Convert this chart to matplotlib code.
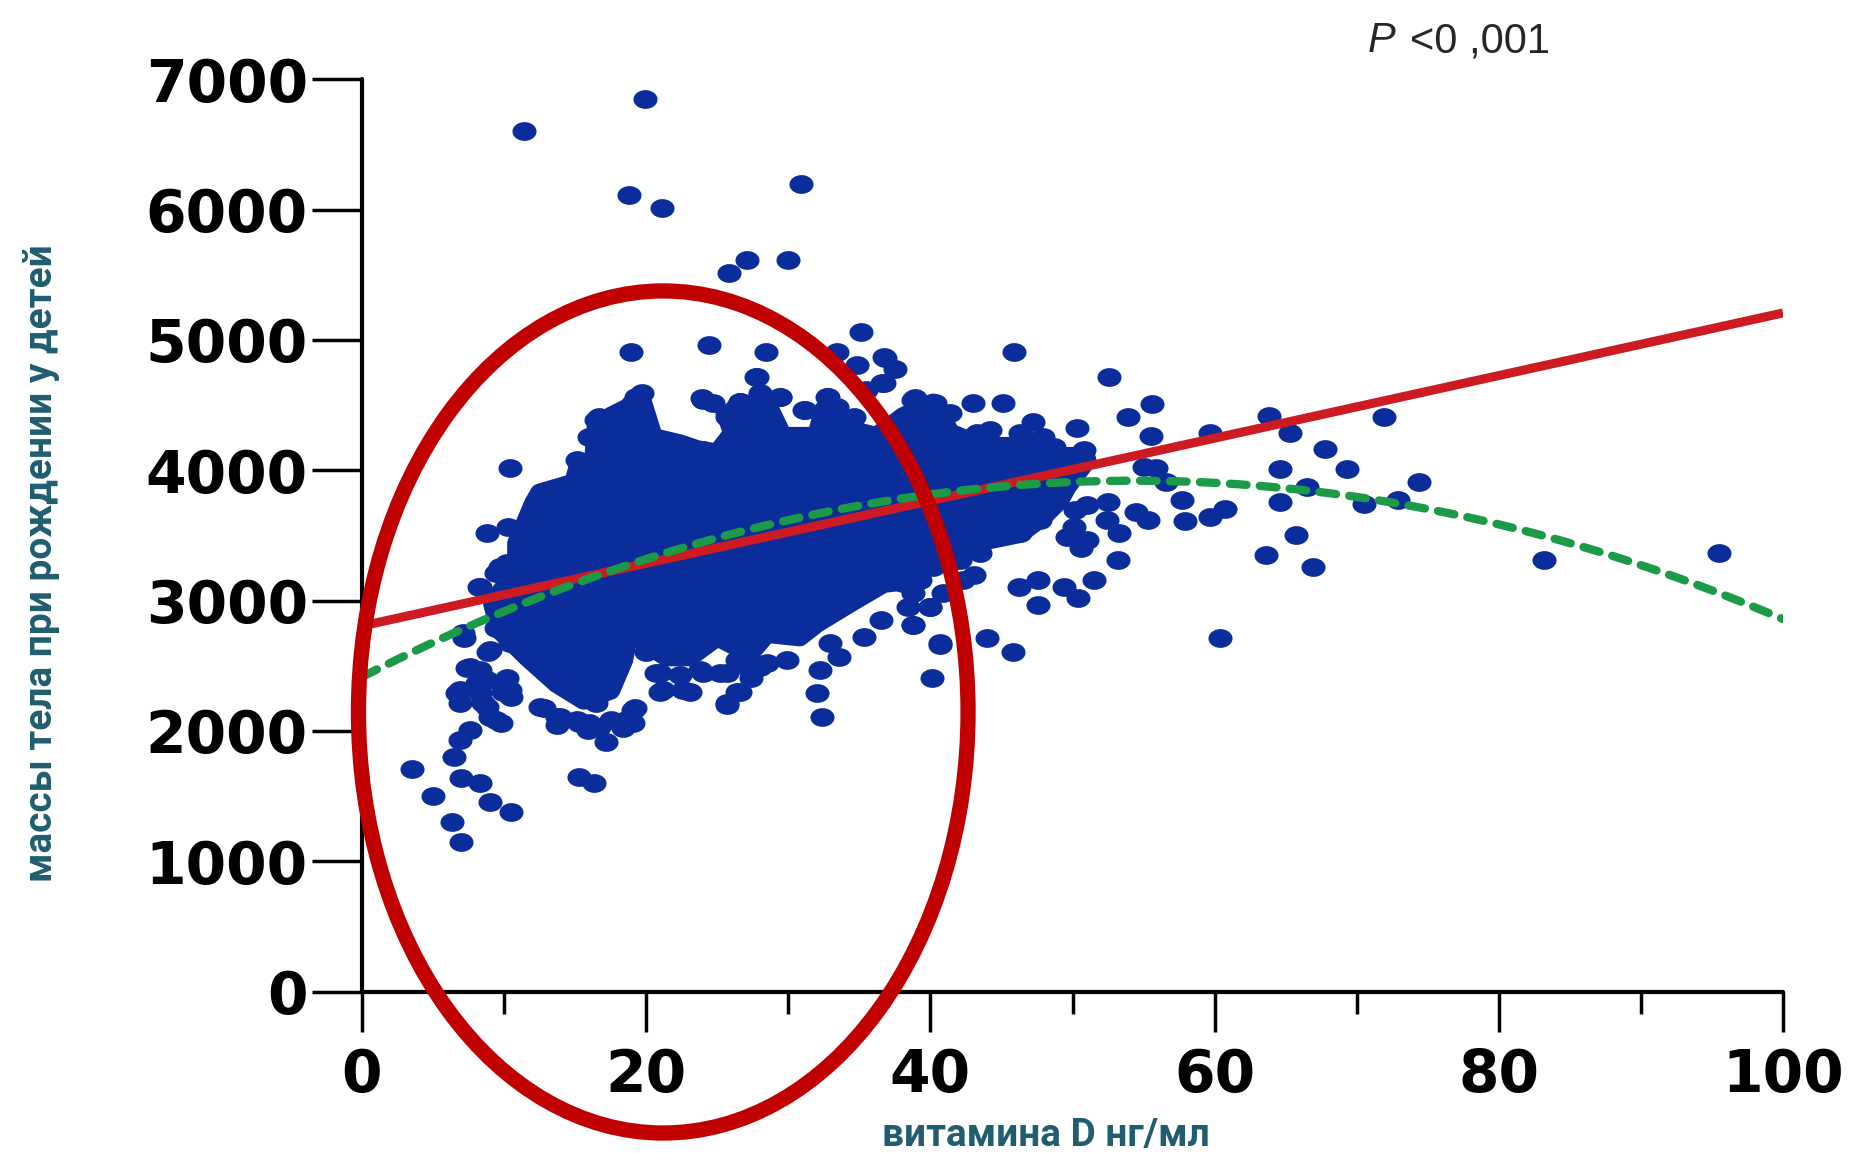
import numpy as np
import matplotlib
matplotlib.use("Agg")
import matplotlib.pyplot as plt
from matplotlib.patches import Ellipse, Polygon
from matplotlib.path import Path
from matplotlib.transforms import Affine2D

# vitamin D (ng/ml) and birth weight (g) of individual points around the dense cloud
vit_d = [19.9, 11.4, 18.8, 21.1, 30.9, 25.8, 27.1, 30.0,
         18.95, 24.4, 28.4, 27.7, 35.1, 33.4, 34.8, 36.7, 37.5,
         45.9, 36.8, 36.6,
         19.4, 23.9, 26.6, 28.0, 29.4, 32.8, 38.9, 40.3, 43.0, 45.1, 47.2, 50.3, 44.2, 31.2, 25.7, 16.7,
         52.6, 55.6, 53.9, 63.8, 71.9, 55.5, 65.3, 67.8, 64.6, 69.3, 59.7, 55.0, 55.9, 56.6, 57.7,
         66.5, 64.6, 70.5, 72.9, 52.5, 54.5, 55.3, 57.9, 59.7, 60.7, 65.7, 63.6, 66.9, 60.4, 53.2,
         51.5, 50.4, 49.4, 47.6, 47.6, 46.2, 44.0, 45.8, 40.7, 38.8, 43.1, 50.1, 51.0, 49.6, 50.6,
         53.3, 52.4, 50.2, 51.0, 74.4, 83.2, 95.5,
         3.5, 5.0, 6.3, 7.0, 9.0, 10.5, 7.0, 8.3, 6.5, 6.9, 7.6, 9.4, 9.8, 7.4, 8.3, 8.8, 8.3, 8.8,
         9.0, 6.7, 6.9, 10.2, 10.5, 9.9, 8.9, 7.2, 8.2, 9.4, 10.1, 9.4, 10.4, 12.8, 13.7, 13.7, 15.3,
         15.9, 16.7, 17.2, 15.3, 16.3, 18.4, 19.1, 19.2, 20.0, 21.0, 23.1, 21.0, 22.4, 24.0, 25.7,
         26.6, 25.7, 27.4, 28.0,
         10.4, 8.8, 10.3, 8.3, 9.7, 10.2, 9.0, 7.6, 6.9, 8.1, 8.5, 10.4, 7.1, 12.5, 13.9, 15.1, 16.0,
         17.5, 18.6, 19.1, 16.5,
         16.5, 17.5, 16.0, 19.3, 19.7, 19.1, 15.1, 12.5, 24.0, 24.7, 25.7, 26.6, 27.8, 28.0, 29.4,
         31.1, 32.7, 33.4, 34.6, 35.5, 36.7, 38.8, 40.2, 41.4, 38.6, 22.6, 24.0, 21.2, 20.3,
         32.2, 32.0, 32.4, 25.7, 26.4, 26.6, 32.9, 33.6, 35.3, 36.5, 38.8, 40.0, 40.7, 40.1, 36.7,
         38.1, 39.3, 20.3, 20.7, 21.2, 22.6, 23.8, 25.2, 26.4, 27.3, 28.5, 29.9, 42.3, 41.8, 42.1,
         41.1, 42.5, 43.3, 44.9, 46.3, 46.8, 47.9, 48.7, 49.4, 50.8, 42.5, 43.9, 44.9, 46.5, 47.7,
         46.3, 44.9, 43.5, 42.1, 41.1, 40.2, 39.3, 38.8, 40.9, 40.0, 38.4, 49.4, 47.9, 48.9]
weight = [6850, 6600, 6110, 6010, 6200, 5510, 5610, 5610,
          4906, 4959, 4906, 4718, 5064, 4906, 4808, 4872, 4775,
          4910, 4860, 4668,
          4565, 4553, 4527, 4578, 4565, 4565, 4553, 4514, 4514, 4514, 4373, 4322, 4309, 4463, 4411, 4411,
          4714, 4509, 4411, 4417, 4411, 4263, 4289, 4161, 4008, 4008, 4284, 4028, 4015, 3912, 3772,
          3870, 3759, 3741, 3772, 3759, 3682, 3618, 3611, 3644, 3701, 3503, 3350, 3260, 2711, 3311,
          3158, 3018, 3107, 2966, 3158, 3107, 2711, 2608, 2672, 2813, 3196, 3567, 3465, 3490, 3401,
          3516, 3618, 3695, 3734, 3908, 3311, 3363,
          1705, 1503, 1303, 1150, 1457, 1375, 1636, 1602, 1802, 1930, 2007, 2084, 2058, 2480, 2467, 2390, 2288, 2186,
          2109, 2288, 2212, 2404, 2262, 2301, 2608, 2711, 3107, 3209, 3260, 2787, 2672, 2173, 2109, 2045, 2058,
          2007, 2032, 1917, 1648, 1602, 2020, 2058, 2173, 2608, 2301, 2301, 2442, 2429, 2442, 2442,
          2301, 2199, 2404, 2493,
          4015, 3516, 3567, 3107, 3260, 3286, 2621, 2493, 2314, 2365, 2212, 2314, 2749, 2186, 2109, 2084, 2058,
          2084, 2084, 2160, 2212,
          4386, 4411, 4258, 4565, 4591, 4514, 4079, 3797, 4540, 4514, 4437, 4527, 4718, 4591, 4565,
          4463, 4565, 4488, 4411, 4616, 4668, 4540, 4514, 4437, 4361, 4079, 4156, 4130, 4181,
          2467, 2288, 2109, 2212, 2301, 2646, 2672, 2570, 2723, 2851, 2813, 2953, 2659, 2404, 3183,
          3133, 3286, 2621, 2442, 2314, 2314, 2467, 2442, 2544, 2467, 2519, 2544, 3158, 3414, 3567,
          4309, 4207, 4284, 4181, 4284, 4233, 4258, 4181, 4104, 4156, 3670, 3772, 3721, 3772, 3618,
          3516, 3516, 3363, 3312, 3516, 3260, 3158, 3056, 3056, 2953, 2953, 3925, 3823, 3772]

# outline of the solid, fully overlapping part of the cloud
core_x = [9.2, 10.9, 10.9, 12.1, 12.5, 14.9, 15.3, 16.3, 16.5, 17.5,
          18.9, 19.6, 20.5, 22.4, 23.6, 25.0, 26.1, 25.7,
          26.6, 28.7, 29.6, 32.0, 32.5, 34.3, 36.2, 38.1, 40.2, 41.4,
          43.7, 46.1, 48.4, 50.1, 51.0, 49.6, 49.1, 47.9, 46.3, 44.0,
          42.1, 40.2, 38.6, 36.7, 34.3, 32.0, 30.8, 28.5, 27.3, 25.0,
          23.1, 21.4, 19.3, 18.9, 18.4, 17.5, 15.6, 13.7, 11.6, 9.7]
core_y = [2979, 3235, 3440, 3747, 3823, 3900, 4054, 4054, 4335, 4411,
          4488, 4565, 4250, 4200, 4156, 4130, 4284, 4411,
          4514, 4463, 4258, 4258, 4463, 4309, 4258, 4411, 4514, 4284,
          4181, 4181, 4104, 4104, 4079, 3874, 3772, 3644, 3516, 3465,
          3363, 3312, 3158, 3133, 2979, 2826, 2723, 2749, 2596, 2723,
          2570, 2570, 2723, 2826, 2544, 2314, 2237, 2365, 2570, 2774]

# linear fit (end points) and quadratic fit coefficients
lin_x = [0, 100]
lin_y = [2805, 5207]
quad_coef = [2414, 55.4, -0.5096]

# highlighted low vitamin D zone
zone_center = (21.2, 2145)
zone_w, zone_h = 42.9, 6462

dot_color = '#0a2d9b'
label_color = '#1f5d6f'

W, H = 1853, 1153
fig = plt.figure(figsize=(W / 100, H / 100), dpi=100)
ax = fig.add_axes([362 / W, (H - 991.5) / H, (1783 - 362) / W, (991.5 - 79.3) / H])

# slightly flattened round marker
oval = Path.unit_circle().transformed(Affine2D().scale(1.0, 0.78))

ax.add_patch(Polygon(np.column_stack([core_x, core_y]), closed=True,
                     fc=dot_color, ec=dot_color, lw=14, joinstyle='round', zorder=2))
ax.scatter(vit_d, weight, s=300, marker=oval, color=dot_color, lw=0, zorder=2)

ax.plot(lin_x, lin_y, color='#cc1b22', lw=6.5, zorder=3, solid_capstyle='butt')

xq = np.linspace(0, 100, 300)
yq = quad_coef[0] + quad_coef[1] * xq + quad_coef[2] * xq ** 2
ax.plot(xq, yq, color='#1b9a48', lw=6, dashes=(2.0, 1.6), dash_capstyle='round', zorder=4)

ax.add_patch(Ellipse(zone_center, zone_w, zone_h, fill=False, ec='#c00000', lw=11,
                     clip_on=False, zorder=5))

ax.set_xlim(0, 100)
ax.set_ylim(0, 7000)
ax.set_xticks([0, 20, 40, 60, 80, 100])
ax.set_xticks([10, 30, 50, 70, 90], minor=True)
ax.set_yticks(range(0, 7001, 1000))

for side in ['top', 'right']:
    ax.spines[side].set_visible(False)
for side in ['left', 'bottom']:
    ax.spines[side].set_linewidth(3)
    ax.spines[side].set_capstyle('round')

ax.tick_params(axis='x', which='major', length=29, width=2.5, pad=11, direction='out')
ax.tick_params(axis='x', which='minor', length=16, width=2.5, direction='out')
ax.tick_params(axis='y', which='major', length=36, width=2.5, pad=3, direction='out')
for lab in ax.get_xticklabels() + ax.get_yticklabels():
    lab.set_fontfamily('DejaVu Sans')
    lab.set_fontweight('bold')
    lab.set_fontsize(42)

fig.text(42 / W, 1 - 563 / H, 'массы тела при рождении у детей', rotation=90,
         ha='center', va='center', fontsize=28, fontweight='bold',
         family='Roboto', color=label_color)
fig.text(1046 / W, 1 - 1135 / H, 'витамина D нг/мл', ha='center', va='center',
         fontsize=28, fontweight='bold', family='Roboto', color=label_color)

fig.text(1368 / W, 1 - 52 / H, 'P', ha='left', va='baseline', fontsize=30,
         style='italic', family='Liberation Sans', color='#262626')
fig.text(1410 / W, 1 - 52 / H, '<0 ,001', ha='left', va='baseline', fontsize=30,
         family='Liberation Sans', color='#262626')

fig.savefig('out.png', dpi=100, facecolor='white')
